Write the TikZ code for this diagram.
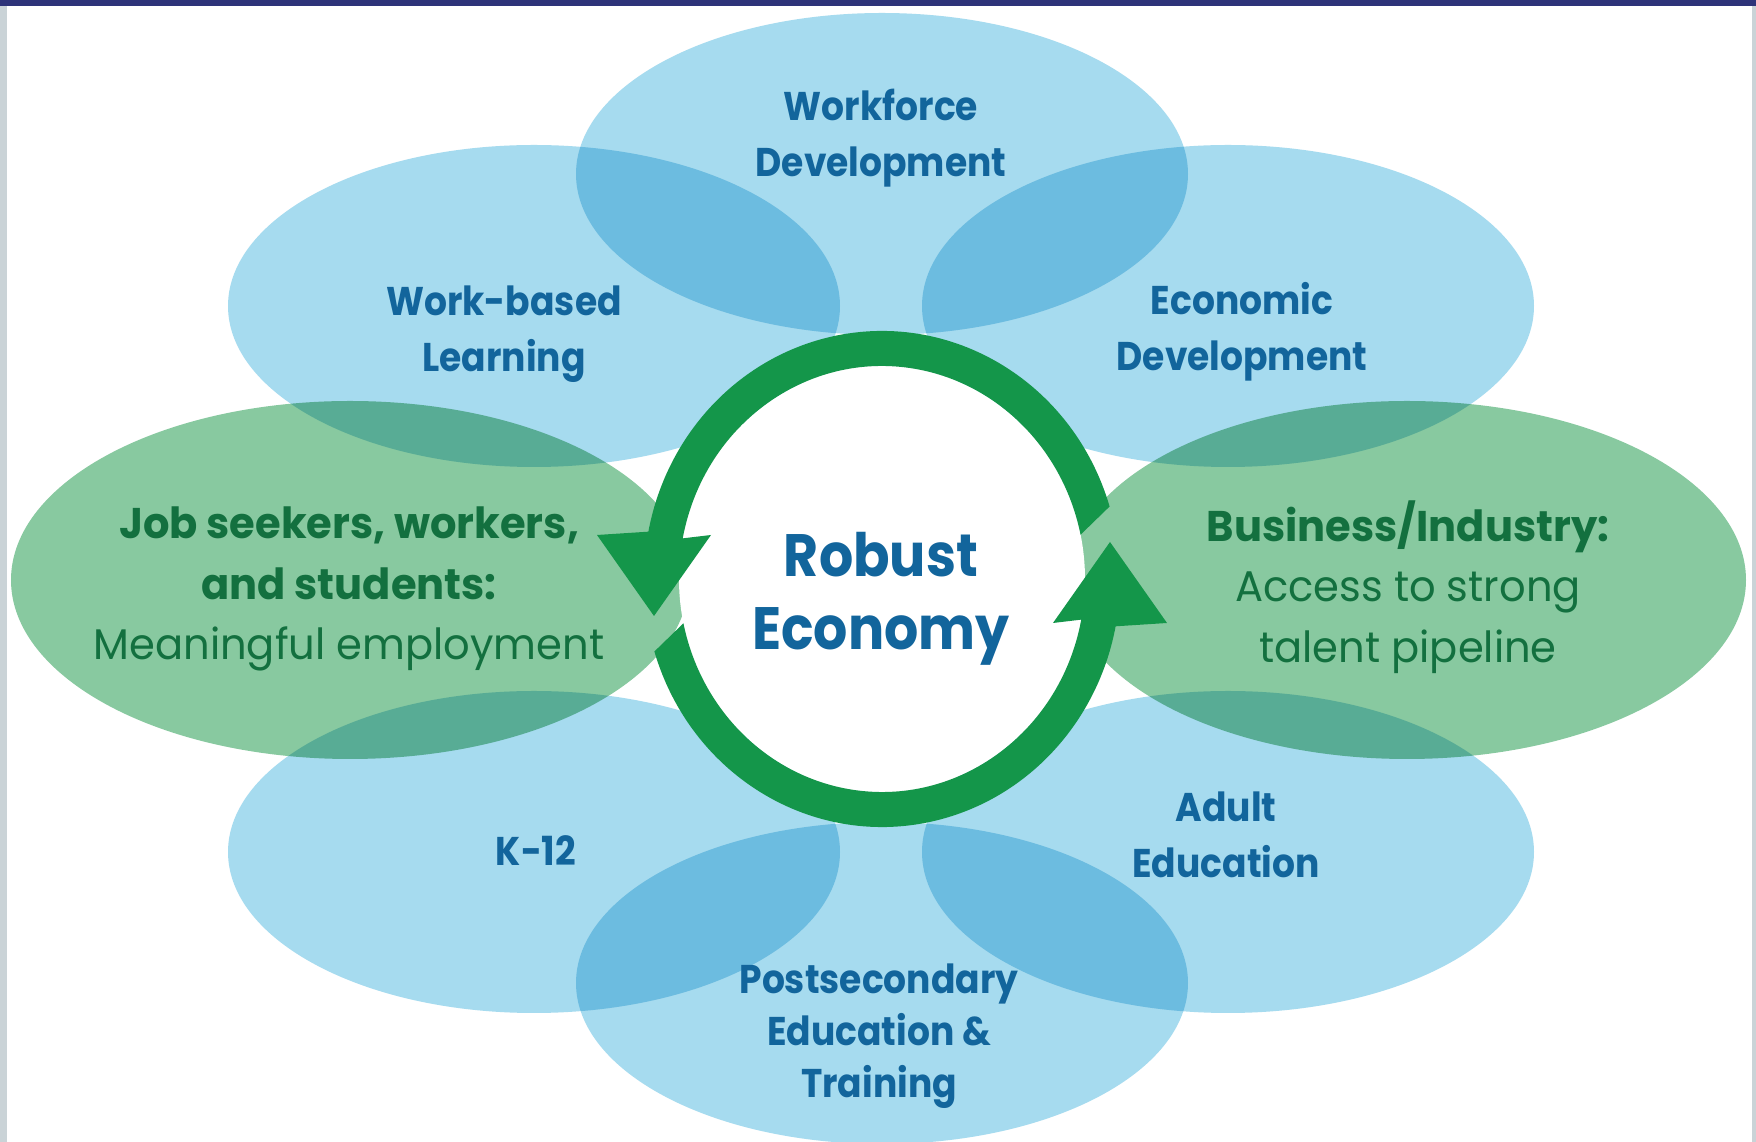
\documentclass[tikz,border=0pt]{standalone}
\usepackage{fontspec}
\setmainfont{Poppins}
\newfontfamily\petalfont{Poppins}[FakeStretch=0.9]
\newfontfamily\jobfont{Poppins}[FakeStretch=0.97]
\definecolor{petalblue}{HTML}{A6DBEF}
\definecolor{petalgreen}{HTML}{88C9A0}
\definecolor{textblue}{HTML}{12659C}
\definecolor{textgreen}{HTML}{13703F}
\definecolor{ringgreen}{HTML}{14964A}
\definecolor{barnavy}{HTML}{2E3379}
\definecolor{edgegray}{HTML}{CAD3D7}

\begin{document}
\begin{tikzpicture}[x=0.01cm,y=0.01cm,
 petal/.style={fill=petalblue},
 job petal/.style={fill=petalgreen},
 blue text/.style={text=textblue,align=center,
   font=\petalfont\fontsize{11.4}{15.9}\selectfont\bfseries},
 green text/.style={text=textgreen,align=center,
   font=\jobfont\fontsize{12.2}{17.2}\selectfont},
 cycle arrow/.style={fill=ringgreen}]
\useasboundingbox (0,0) rectangle (1756,1142);
\fill[white] (0,0) rectangle (1756,1142);

% petals
\begin{scope}[blend mode=multiply]
 \foreach \cx/\cy in {882/968, 534/836, 1228/836, 534/290, 1228/290, 882/159}
   \fill[petal] (\cx,\cy) ellipse [x radius=306, y radius=161];
 \foreach \cx in {350, 1407}
   \fill[job petal] (\cx,562) ellipse [x radius=339, y radius=179];
\end{scope}

% centre and the two arrows
\fill[white] (882,563) ellipse [x radius=203, y radius=213];
\foreach \r in {0,180}
  \fill[cycle arrow, shift={(882,563)}, rotate=\r]
    (17:238 and 248) arc [start angle=17, end angle=169, x radius=238, y radius=248]
    -- (-285,44) -- (-228,-37) -- (-171,44)
    -- (169:203 and 213) arc [start angle=169, end angle=12, x radius=203, y radius=213]
    -- cycle;

\node[blue text] (wd) at (881,1004) {Workforce\\Development};
\node[blue text] (wbl) at (504,808) {Work-based\\Learning};
\node[blue text] (ed) at (1242,810) {Economic\\Development};
\node[blue text] (k12) at (536,291) {K-12};
\node[blue text] (ae) at (1226,307) {Adult\\Education};
\node[blue text] (pse) at (879,106) {Postsecondary\\[-1.1pt]Education \&\\[-1.1pt]Training};
\node[green text] (js) at (349,553)
  {\textbf{Job seekers, workers,}\\\textbf{and students:}\\Meaningful employment};
\node[green text] (bi) at (1408,555)
  {\textbf{Business/Industry:}\\Access to strong\\talent pipeline};
\node[text=textblue, align=center, font=\petalfont\fontsize{17}{20.7}\selectfont\bfseries]
  (re) at (881,543) {Robust\\Economy};

% frame
\fill[barnavy] (0,1136) rectangle (1756,1142);
\fill[edgegray] (0,0) rectangle (7,1136);
\fill[edgegray] (1752,0) rectangle (1756,1136);
\end{tikzpicture}
\end{document}
